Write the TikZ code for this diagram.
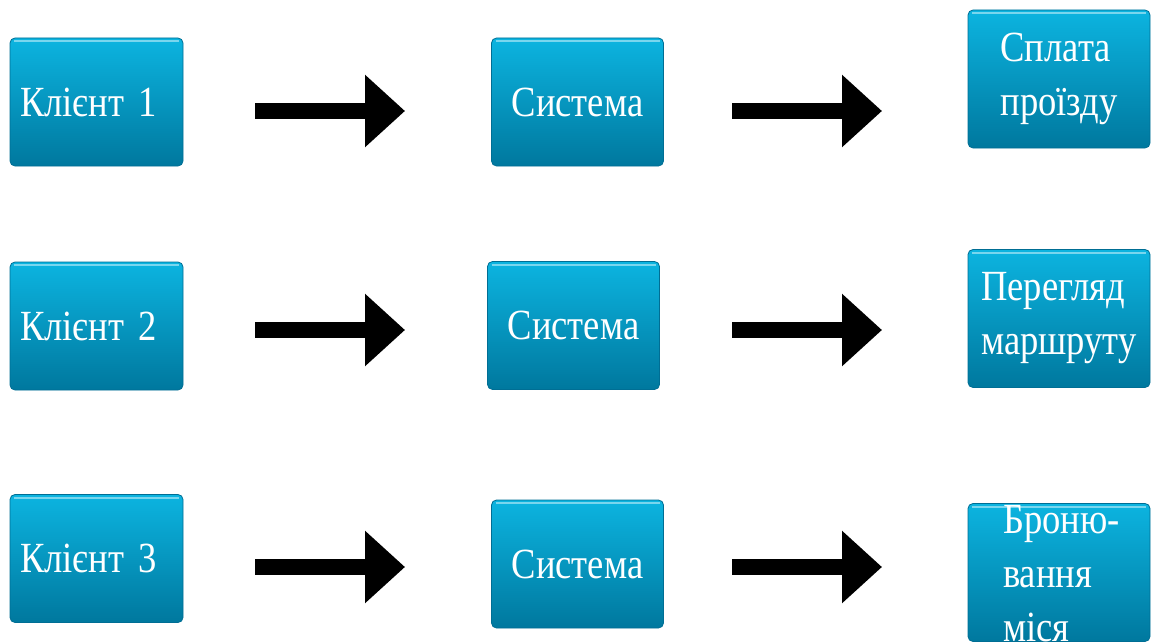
\documentclass[tikz,border=0pt]{standalone}
\usepackage{fontspec}
\usetikzlibrary{arrows.meta}
\newfontfamily\tilefont[FakeStretch=0.85]{Liberation Serif}
\definecolor{tiletop}{RGB}{12,180,224}
\definecolor{tilebottom}{RGB}{0,120,158}
\definecolor{tileedge}{RGB}{0,110,148}

\begin{document}
\begin{tikzpicture}[x=1pt,y=-1pt,
    tile/.style={rounded corners=5pt, inner sep=0pt,
      top color=tiletop, bottom color=tilebottom, draw=tileedge, line width=0.8pt,
      text=white, font=\tilefont\fontsize{43}{54}\selectfont,
      path picture={\draw[white!45!tiletop, line width=2pt]
        ([xshift=4pt,yshift=-3pt]path picture bounding box.north west) --
        ([xshift=-4pt,yshift=-3pt]path picture bounding box.north east);}},
    client/.style={tile, minimum width=173pt, minimum height=128pt,
      text width=153pt, align=left},
    system/.style={tile, minimum width=172pt, minimum height=128pt},
    service/.style={tile, minimum width=182pt, minimum height=138pt, align=left},
    bigarrow/.style={line width=16pt, -{Triangle[length=40pt,width=70pt]}}]
  \useasboundingbox (0,0) rectangle (1153,642);

  % first row
  \node[client] (k1) at (96.5,102) {Клієнт 1};
  \node[system] (s1) at (577.5,102) {Система};
  \node[service] (r1) at (1059,79) {Сплата\\проїзду};

  % second row
  \node[client] (k2) at (96.5,326) {Клієнт 2};
  \node[system] (s2) at (573.5,325.5) {Система};
  \node[service] (r2) at (1059,318.5) {Перегляд\\маршруту};

  % third row, the last label runs past the tile
  \node[client] (k3) at (96.5,558.5) {Клієнт 3};
  \node[system] (s3) at (577.5,564) {Система};
  \node[service] (r3) at (1059,572.5) {};
  \node[text=white, font=\tilefont\fontsize{43}{54}\selectfont, align=left,
    inner sep=0pt, anchor=north west] (r3txt) at (1003,505) {Броню-\\вання\\міся};

  % arrows between the columns
  \coordinate (a1) at (255,111);  \coordinate (b1) at (405,111);
  \coordinate (c1) at (732,111);  \coordinate (d1) at (882,111);
  \coordinate (a2) at (255,330);  \coordinate (b2) at (405,330);
  \coordinate (c2) at (732,330);  \coordinate (d2) at (882,330);
  \coordinate (a3) at (255,567);  \coordinate (b3) at (405,567);
  \coordinate (c3) at (732,567);  \coordinate (d3) at (882,567);
  \foreach \r in {1,2,3} {
    \draw[bigarrow] (a\r) -- (b\r);
    \draw[bigarrow] (c\r) -- (d\r);
  }
\end{tikzpicture}
\end{document}
